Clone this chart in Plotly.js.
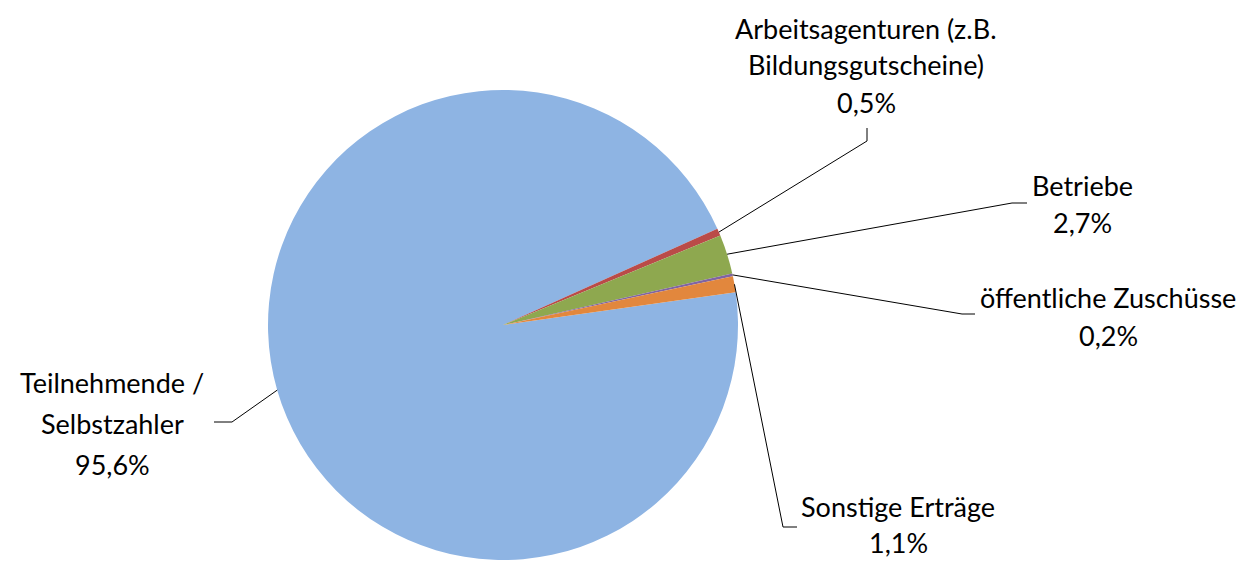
<!DOCTYPE html>
<html>
<head>
<meta charset="utf-8">
<script src="https://cdn.plot.ly/plotly-3.0.1.min.js"></script>
<style>html,body{margin:0;padding:0;background:#fff;}#chart{width:1245px;height:561px;}</style>
</head>
<body>
<div id="chart"></div>
<script>
// Data
const categories = ["Teilnehmende / Selbstzahler", "Arbeitsagenturen (z.B. Bildungsgutscheine)", "Betriebe", "öffentliche Zuschüsse", "Sonstige Erträge"];
const values = [95.6, 0.5, 2.7, 0.2, 1.1];
const valueLabels = ["95,6%", "0,5%", "2,7%", "0,2%", "1,1%"];
const labelLines = [
  ["Teilnehmende /", "Selbstzahler"],
  ["Arbeitsagenturen (z.B.", "Bildungsgutscheine)"],
  ["Betriebe"],
  ["öffentliche Zuschüsse"],
  ["Sonstige Erträge"]
];
const colors = ["#8EB4E3", "#BA4B48", "#8EA84F", "#8064A2", "#E2873D"];

// Layout (pixel geometry)
const W = 1245, H = 561;
const cx = 503, cy = 325, R = 235;
const rotation = 82;
const fontFamily = "Lato, 'Open Sans', sans-serif";
const fontSize = 27;
// label block: center x, first-line center y, line gap
const labelPos = [
  {x: 112, y: 382, gap: 41},
  {x: 866, y: 28, gap: 37},
  {x: 1082, y: 185, gap: 37},
  {x: 1108, y: 297, gap: 38},
  {x: 898, y: 507, gap: 35}
];
// leader elbows: [elbow point, end point]
const leaderPts = [
  [[232, 422], [214, 422]],
  [[867, 141], [867, 128]],
  [[1012, 203], [1027, 203]],
  [[962, 314], [975, 314]],
  [[783, 527], [797, 527]]
];

const px = x => x / W;
const py = y => 1 - y / H;

// compute mid-angles of slices from data
const total = values.reduce((a, b) => a + b, 0);
let ang = rotation;
const mids = values.map(v => {
  const span = v / total * 360;
  const m = ang + span / 2;
  ang += span;
  return m;
});

const shapes = [];
const annotations = [];
values.forEach((v, i) => {
  const a = mids[i] * Math.PI / 180;
  const sx = cx + R * Math.sin(a);
  const sy = cy - R * Math.cos(a);
  const [e1, e2] = leaderPts[i];
  shapes.push({
    type: 'path', xref: 'paper', yref: 'paper',
    path: `M ${px(sx)} ${py(sy)} L ${px(e1[0])} ${py(e1[1])} L ${px(e2[0])} ${py(e2[1])}`,
    line: {color: '#000', width: 1}
  });
  const lines = labelLines[i].concat([valueLabels[i]]);
  lines.forEach((t, k) => {
    annotations.push({
      xref: 'paper', yref: 'paper',
      x: px(labelPos[i].x), y: py(labelPos[i].y + k * labelPos[i].gap),
      xanchor: 'center', yanchor: 'middle',
      text: t, showarrow: false, borderpad: 0,
      font: {family: fontFamily, size: fontSize, color: '#000'}
    });
  });
});

const trace = {
  type: 'pie',
  labels: categories,
  values: values,
  sort: false,
  direction: 'clockwise',
  rotation: rotation,
  textinfo: 'none',
  hoverinfo: 'label+percent',
  marker: {colors: colors, line: {width: 0}},
  domain: {x: [(cx - R) / W, (cx + R) / W], y: [py(cy + R), py(cy - R)]}
};

const layout = {
  width: W, height: H,
  margin: {l: 0, r: 0, t: 0, b: 0},
  showlegend: false,
  paper_bgcolor: '#fff',
  shapes: shapes,
  annotations: annotations
};

Plotly.newPlot('chart', [trace], layout, {displayModeBar: false, staticPlot: true});
</script>
</body>
</html>
